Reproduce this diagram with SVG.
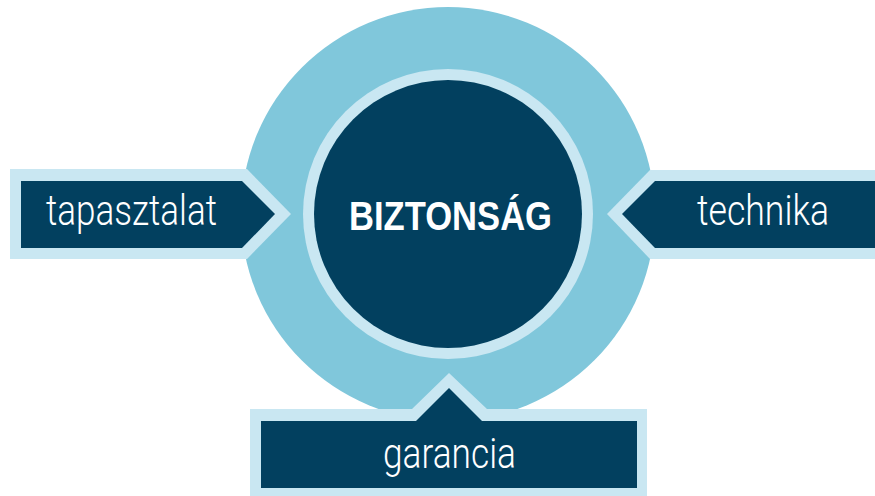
<svg xmlns="http://www.w3.org/2000/svg" width="875" height="496" viewBox="0 0 875 496">
<style>
.outer{fill:#80C7DB}
.light{fill:#C9E7F2}
.dark{fill:#02405F}
.lbl{fill:#FFFFFF;font-family:Roboto,"Liberation Sans",sans-serif;font-weight:300;font-size:42px}
.title{fill:#FFFFFF;font-family:"Liberation Sans",Arial,sans-serif;font-weight:bold;font-size:40px}
</style>
<rect width="875" height="496" fill="#FFFFFF"/>
<g id="center">
<circle class="outer" cx="448" cy="214" r="207"/>
<circle class="light" cx="448" cy="214" r="145"/>
<circle class="dark" cx="448" cy="214" r="134"/>
<text class="title" x="349" y="230" textLength="203" lengthAdjust="spacingAndGlyphs">BIZTONSÁG</text>
</g>
<g id="tapasztalat">
<polygon class="light" points="10,169 247,169 291,214 247,259 10,259"/>
<polygon class="dark" points="21,181 242,181 275,214 242,248 21,248"/>
<text class="lbl" x="46" y="225" textLength="171" lengthAdjust="spacingAndGlyphs">tapasztalat</text>
</g>
<g id="technika">
<polygon class="light" points="875,170 650,170 607,214 650,259 875,259"/>
<polygon class="dark" points="875,181 655,181 622,214 655,248 875,248"/>
<text class="lbl" x="697" y="225" textLength="132" lengthAdjust="spacingAndGlyphs">technika</text>
</g>
<g id="garancia">
<polygon class="light" points="250,496 250,409 412,409 449,373 487,409 647,409 647,496"/>
<polygon class="dark" points="261,488 261,421 416,421 449,388 482,421 637,421 637,488"/>
<text class="lbl" x="383" y="468" textLength="133" lengthAdjust="spacingAndGlyphs">garancia</text>
</g>
<g id="connectors"></g>
</svg>
